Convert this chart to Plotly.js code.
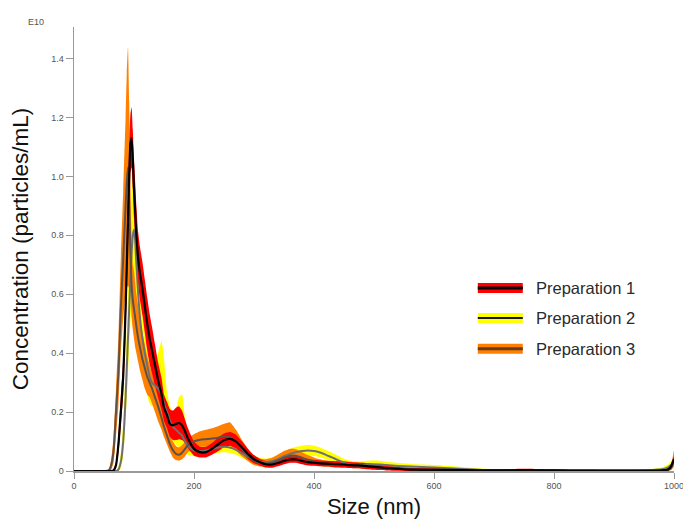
<!DOCTYPE html>
<html>
<head>
<meta charset="utf-8">
<script src="https://cdn.plot.ly/plotly-3.0.1.min.js"></script>
<style>html,body{margin:0;padding:0;background:#fff;}#chart{width:683px;height:522px;}</style>
</head>
<body>
<div id="chart"></div>
<script>
// Size (nm) grid
var sizeNm = [0,50,58,62,66,70,74,78,82,86,88,90,92,94,96,98,100,102,104,107,110,114,118,122,126,130,135,140,146,150,155,160,165,170,175,180,185,190,200,210,220,230,240,250,260,270,280,290,300,310,320,330,340,350,360,370,380,390,400,410,420,430,440,450,460,470,480,490,500,510,520,540,560,580,600,650,700,750,800,850,900,950,980,990,995,1000];

// Preparation 1 (red band, black mean line) — concentration in E10 particles/mL
var prep1Mean  = [0,0,0,0,0.002,0.02,0.09,0.2,0.32,0.55,0.7,0.85,1.0,1.11,1.13,1.06,0.96,0.88,0.8,0.72,0.67,0.62,0.56,0.5,0.45,0.41,0.36,0.31,0.26,0.215,0.19,0.16,0.155,0.16,0.163,0.155,0.135,0.11,0.075,0.064,0.064,0.075,0.09,0.104,0.109,0.1,0.08,0.058,0.04,0.03,0.023,0.022,0.027,0.034,0.039,0.039,0.034,0.03,0.028,0.026,0.025,0.024,0.023,0.022,0.02,0.019,0.018,0.016,0.014,0.012,0.01,0.007,0.005,0.004,0.004,0.003,0.002,0.003,0.002,0.001,0.001,0.001,0.002,0.005,0.015,0.04];
var prep1Upper = [0,0,0,0,0.004,0.03,0.12,0.25,0.38,0.63,0.79,0.95,1.1,1.21,1.235,1.16,1.06,0.98,0.9,0.81,0.76,0.71,0.65,0.59,0.535,0.49,0.43,0.37,0.315,0.26,0.235,0.21,0.205,0.215,0.22,0.205,0.175,0.145,0.1,0.082,0.082,0.095,0.113,0.127,0.132,0.123,0.1,0.075,0.054,0.041,0.034,0.033,0.038,0.045,0.05,0.05,0.045,0.041,0.038,0.036,0.035,0.034,0.033,0.032,0.03,0.029,0.028,0.026,0.024,0.021,0.018,0.014,0.011,0.01,0.01,0.008,0.006,0.008,0.006,0.005,0.004,0.004,0.005,0.01,0.025,0.05];
var prep1Lower = [0,0,0,0,0,0.01,0.06,0.15,0.26,0.47,0.61,0.75,0.9,1.01,1.03,0.96,0.86,0.78,0.7,0.63,0.58,0.53,0.47,0.41,0.365,0.33,0.29,0.25,0.205,0.17,0.145,0.115,0.105,0.105,0.108,0.105,0.095,0.077,0.052,0.046,0.046,0.055,0.067,0.081,0.086,0.077,0.06,0.041,0.026,0.019,0.012,0.011,0.016,0.023,0.028,0.028,0.023,0.019,0.018,0.016,0.015,0.014,0.013,0.012,0.01,0.009,0.008,0.006,0.004,0.003,0.002,0.001,0,0,0,0,0,0,0,0,0,0,0,0,0.005,0.03];

// Preparation 2 (yellow band, grey mean line)
var prep2Mean  = [0,0,0,0,0,0,0.005,0.03,0.1,0.25,0.35,0.45,0.55,0.65,0.74,0.8,0.82,0.78,0.7,0.6,0.52,0.45,0.4,0.36,0.32,0.3,0.29,0.28,0.26,0.23,0.2,0.17,0.15,0.14,0.13,0.12,0.1,0.085,0.07,0.068,0.07,0.075,0.08,0.082,0.08,0.072,0.06,0.048,0.038,0.032,0.03,0.033,0.04,0.05,0.058,0.064,0.068,0.07,0.068,0.063,0.055,0.046,0.037,0.028,0.022,0.02,0.02,0.022,0.023,0.022,0.02,0.017,0.015,0.014,0.012,0.007,0.002,0.001,0.001,0.001,0.001,0.002,0.006,0.012,0.02,0.03];
var prep2Upper = [0,0,0,0,0,0.002,0.015,0.06,0.16,0.35,0.47,0.6,0.72,0.83,0.93,1.0,1.02,0.95,0.85,0.72,0.63,0.55,0.5,0.45,0.41,0.38,0.36,0.4,0.44,0.38,0.27,0.22,0.2,0.21,0.25,0.26,0.18,0.12,0.095,0.09,0.09,0.095,0.1,0.102,0.1,0.09,0.078,0.065,0.052,0.045,0.042,0.046,0.055,0.066,0.075,0.082,0.086,0.088,0.086,0.08,0.071,0.062,0.052,0.042,0.035,0.032,0.033,0.035,0.036,0.035,0.031,0.027,0.024,0.022,0.02,0.013,0.006,0.004,0.003,0.003,0.003,0.005,0.012,0.022,0.032,0.045];
var prep2Lower = [0,0,0,0,0,0,0,0.01,0.05,0.17,0.25,0.33,0.42,0.5,0.57,0.61,0.62,0.6,0.55,0.47,0.41,0.35,0.3,0.26,0.23,0.22,0.22,0.21,0.2,0.17,0.15,0.12,0.1,0.09,0.08,0.07,0.06,0.055,0.05,0.05,0.052,0.058,0.062,0.064,0.062,0.055,0.044,0.034,0.025,0.02,0.018,0.021,0.027,0.035,0.042,0.048,0.051,0.053,0.051,0.047,0.04,0.032,0.024,0.016,0.011,0.01,0.01,0.011,0.012,0.011,0.01,0.008,0.007,0.006,0.005,0.002,0,0,0,0,0,0,0.002,0.004,0.008,0.015];

// Preparation 3 (orange band, dark mean line)
var prep3Mean  = [0,0,0.002,0.02,0.07,0.2,0.33,0.55,0.72,0.9,0.98,1.03,0.9,0.75,0.63,0.58,0.55,0.52,0.49,0.45,0.42,0.38,0.35,0.32,0.3,0.28,0.25,0.22,0.18,0.15,0.12,0.09,0.07,0.058,0.055,0.062,0.075,0.088,0.1,0.106,0.108,0.11,0.113,0.118,0.115,0.1,0.075,0.052,0.035,0.027,0.025,0.028,0.036,0.045,0.052,0.052,0.045,0.038,0.032,0.028,0.025,0.023,0.022,0.021,0.02,0.019,0.018,0.016,0.014,0.012,0.01,0.008,0.006,0.005,0.004,0.003,0.002,0.002,0.001,0.001,0.001,0.001,0.002,0.004,0.01,0.035];
var prep3Upper = [0,0,0.006,0.04,0.12,0.28,0.45,0.72,0.95,1.2,1.35,1.44,1.25,1.0,0.8,0.7,0.68,0.64,0.6,0.56,0.52,0.47,0.43,0.39,0.36,0.33,0.3,0.27,0.23,0.19,0.155,0.12,0.1,0.085,0.08,0.087,0.1,0.112,0.125,0.135,0.14,0.145,0.152,0.16,0.165,0.14,0.105,0.075,0.052,0.042,0.04,0.045,0.056,0.068,0.075,0.074,0.064,0.054,0.046,0.04,0.036,0.034,0.033,0.032,0.031,0.03,0.028,0.026,0.023,0.02,0.017,0.014,0.011,0.01,0.008,0.007,0.005,0.005,0.004,0.003,0.003,0.003,0.005,0.008,0.02,0.07];
var prep3Lower = [0,0,0,0.005,0.03,0.12,0.22,0.4,0.52,0.6,0.62,0.63,0.62,0.6,0.52,0.48,0.45,0.42,0.4,0.37,0.34,0.31,0.28,0.26,0.25,0.23,0.2,0.17,0.14,0.115,0.09,0.065,0.045,0.037,0.035,0.04,0.05,0.064,0.078,0.082,0.082,0.083,0.085,0.088,0.085,0.07,0.05,0.033,0.02,0.015,0.013,0.015,0.02,0.027,0.033,0.034,0.03,0.025,0.02,0.017,0.015,0.013,0.012,0.011,0.01,0.009,0.008,0.007,0.006,0.005,0.004,0.003,0.002,0.001,0,0,0,0,0,0,0,0,0,0.001,0.003,0.015];

// Axis tick labels
var xTickVals = [0,200,400,600,800,1000];
var xTickText = ["0","200","400","600","800","1000"];
var yTickVals = [0,0.2,0.4,0.6,0.8,1.0,1.2,1.4];
var yTickText = ["0","0.2","0.4","0.6","0.8","1.0","1.2","1.4"];

var seriesNames = ["Preparation 1","Preparation 2","Preparation 3"];

function band(lower, upper, color) {
  return {
    x: sizeNm.concat(sizeNm.slice().reverse()),
    y: upper.concat(lower.slice().reverse()),
    type: 'scatter', mode: 'lines', fill: 'toself', fillcolor: color,
    line: {width: 0, color: color, shape: 'spline', smoothing: 0.5},
    hoverinfo: 'skip', showlegend: false
  };
}
function meanLine(y, color, width, name) {
  return {
    x: sizeNm, y: y, type: 'scatter', mode: 'lines', name: name,
    line: {color: color, width: width, shape: 'spline', smoothing: 0.5},
    showlegend: false
  };
}

var data = [
  band(prep2Lower, prep2Upper, '#ffff00'),
  band(prep3Lower, prep3Upper, '#ff8000'),
  band(prep1Lower, prep1Upper, '#ff0000'),
  meanLine(prep2Mean, '#707070', 2, seriesNames[1]),
  meanLine(prep3Mean, '#5f5048', 2, seriesNames[2]),
  meanLine(prep1Mean, '#000000', 2.2, seriesNames[0])
];

var FONT = 'Liberation Sans, Arial, sans-serif';
var legendRows = [
  {y: 0.412, band: '#ff0000', line: '#000000', lw: 3},
  {y: 0.3447, band: '#ffff00', line: '#1a1a1a', lw: 2},
  {y: 0.2756, band: '#ff8000', line: '#6a3a1a', lw: 3}
];
var shapes = [];
var annotations = [];
legendRows.forEach(function (r, i) {
  shapes.push({type: 'line', xref: 'paper', yref: 'paper', x0: 0.673, x1: 0.748, y0: r.y, y1: r.y,
               line: {color: r.band, width: 10}});
  shapes.push({type: 'line', xref: 'paper', yref: 'paper', x0: 0.673, x1: 0.748, y0: r.y, y1: r.y,
               line: {color: r.line, width: r.lw}});
  annotations.push({xref: 'paper', yref: 'paper', x: 0.767, y: r.y, xanchor: 'left', yanchor: 'middle',
                    text: seriesNames[i], showarrow: false, font: {family: FONT, size: 16.5, color: '#2a2a2a'}});
});
annotations.push({xref: 'paper', yref: 'paper', x: -0.063, y: 1.011, xanchor: 'center', yanchor: 'middle',
                  text: 'E10', showarrow: false, font: {family: FONT, size: 9, color: '#555'}});

var layout = {
  width: 683, height: 522,
  margin: {l: 74, r: 9, t: 27, b: 50.5},
  paper_bgcolor: '#fff', plot_bgcolor: '#fff',
  font: {family: FONT},
  showlegend: false,
  xaxis: {
    range: [0, 1000], tickvals: xTickVals, ticktext: xTickText,
    ticks: 'outside', ticklen: 6, tickcolor: '#999', tickwidth: 1,
    showline: true, linecolor: '#999', linewidth: 1.5, showgrid: false, zeroline: false,
    ticklabeloverflow: 'allow',
    tickfont: {family: FONT, size: 9, color: '#555'}, layer: 'below traces',
    title: {text: 'Size (nm)', font: {family: FONT, size: 22, color: '#111'}, standoff: 8}
  },
  yaxis: {
    range: [0, 1.507], tickvals: yTickVals, ticktext: yTickText,
    ticks: 'outside', ticklen: 7, tickcolor: '#999', tickwidth: 1,
    showline: true, linecolor: '#999', linewidth: 1.5, showgrid: false, zeroline: false,
    tickfont: {family: FONT, size: 9, color: '#555'}, layer: 'below traces',
    title: {text: 'Concentration (particles/mL)', font: {family: FONT, size: 22.5, color: '#111'}, standoff: 16}
  },
  shapes: shapes,
  annotations: annotations
};

Plotly.newPlot('chart', data, layout, {displayModeBar: false, staticPlot: true});
</script>
</body>
</html>
